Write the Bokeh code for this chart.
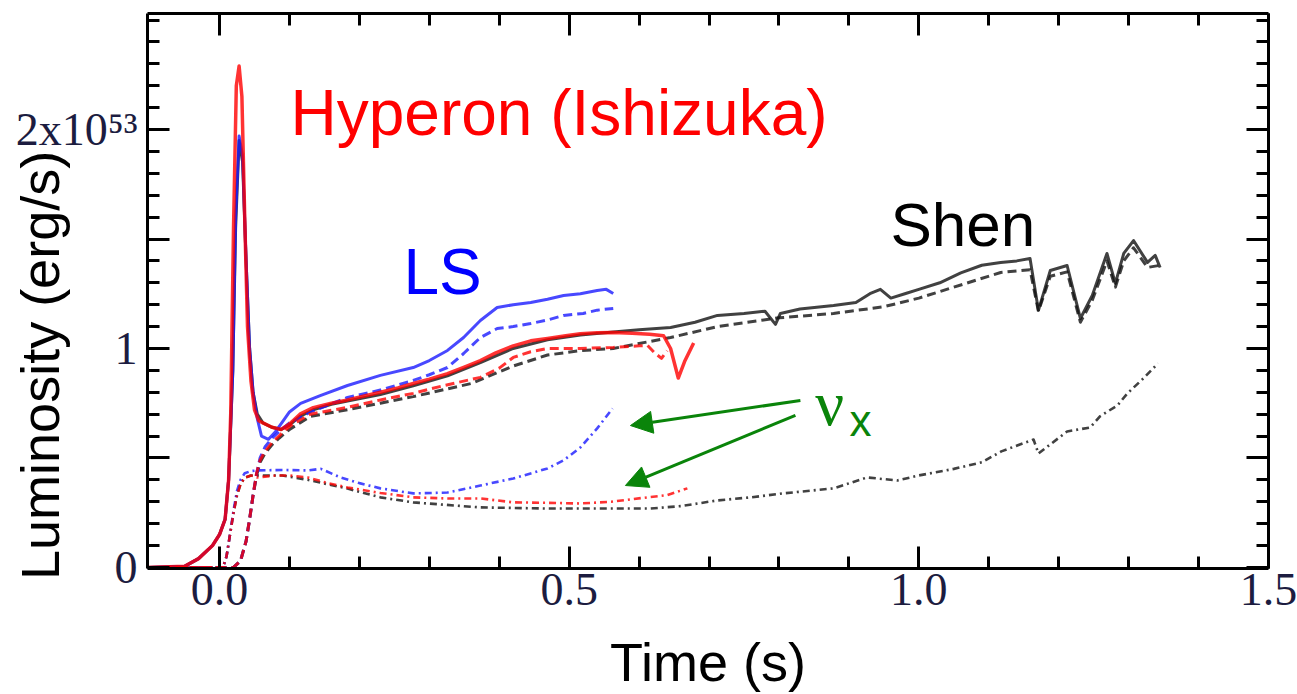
from bokeh.plotting import figure
from bokeh.models import Range1d, LinearAxis, FixedTicker, Label, Arrow, NormalHead, NumeralTickFormatter, Grid
from bokeh.embed import file_html
from bokeh.resources import INLINE

# Neutrino luminosities (units of 1e53 erg/s) against time after bounce (s)

# Hyperon EOS (Ishizuka): nu_e, anti-nu_e, nu_x
hyp_e_t = [-0.103, -0.05, -0.03, -0.01, 0.0, 0.008, 0.013, 0.016, 0.020, 0.024, 0.028, 0.032, 0.036,
           0.040, 0.045, 0.050, 0.056, 0.062, 0.075, 0.088, 0.100, 0.115, 0.134, 0.160, 0.183, 0.210,
           0.230, 0.255, 0.277, 0.300, 0.326, 0.350, 0.373, 0.395, 0.420, 0.445, 0.469, 0.495, 0.516,
           0.540, 0.563, 0.590, 0.615, 0.635, 0.645, 0.656, 0.665, 0.678]
hyp_e_L = [0.0, 0.005, 0.04, 0.10, 0.15, 0.22, 0.40, 0.70, 1.55, 2.20, 2.29, 2.15, 1.60,
           1.10, 0.85, 0.72, 0.67, 0.66, 0.64, 0.63, 0.655, 0.70, 0.73, 0.75, 0.765, 0.785,
           0.80, 0.82, 0.84, 0.86, 0.885, 0.915, 0.945, 0.98, 1.012, 1.035, 1.046, 1.058, 1.067,
           1.072, 1.073, 1.07, 1.065, 1.058, 1.0, 0.865, 0.94, 1.025]

hyp_ae_t = [-0.103, 0.020, 0.030, 0.038, 0.043, 0.048, 0.053, 0.058, 0.065, 0.075, 0.085, 0.095,
            0.105, 0.130, 0.183, 0.230, 0.277, 0.320, 0.373, 0.400, 0.420, 0.445, 0.469, 0.516,
            0.563, 0.600, 0.612, 0.622, 0.632, 0.640]
hyp_ae_L = [0.0, 0.0, 0.03, 0.12, 0.22, 0.33, 0.43, 0.49, 0.53, 0.57, 0.60, 0.63,
            0.655, 0.70, 0.731, 0.765, 0.795, 0.83, 0.868, 0.91, 0.959, 0.985, 1.0, 1.0,
            1.005, 1.012, 1.014, 0.98, 0.955, 0.99]

hyp_x_t = [-0.103, 0.005, 0.010, 0.015, 0.020, 0.025, 0.030, 0.036, 0.045, 0.054, 0.080, 0.100,
           0.126, 0.155, 0.183, 0.230, 0.277, 0.325, 0.373, 0.420, 0.470, 0.516, 0.560, 0.612,
           0.640, 0.669]
hyp_x_L = [0.0, 0.0, 0.05, 0.15, 0.25, 0.33, 0.38, 0.41, 0.42, 0.411, 0.42, 0.42,
           0.411, 0.385, 0.365, 0.34, 0.32, 0.315, 0.315, 0.297, 0.295, 0.292, 0.30, 0.32,
           0.33, 0.361]

# Lattimer-Swesty EOS
ls_e_t = [-0.103, -0.05, -0.03, -0.01, 0.0, 0.008, 0.013, 0.019, 0.023, 0.028, 0.033, 0.038, 0.043,
          0.048, 0.054, 0.060, 0.070, 0.080, 0.090, 0.100, 0.116, 0.144, 0.183, 0.230, 0.277, 0.300,
          0.326, 0.349, 0.373, 0.397, 0.420, 0.445, 0.469, 0.492, 0.516, 0.540, 0.553, 0.563]
ls_e_L = [0.0, 0.005, 0.04, 0.10, 0.15, 0.22, 0.40, 0.90, 1.60, 1.97, 1.88, 1.40, 1.00,
          0.80, 0.68, 0.60, 0.585, 0.62, 0.665, 0.71, 0.749, 0.785, 0.831, 0.877, 0.913, 0.945,
          0.991, 1.05, 1.128, 1.187, 1.20, 1.21, 1.225, 1.242, 1.25, 1.265, 1.27, 1.251]

ls_ae_t = [-0.103, 0.020, 0.030, 0.038, 0.043, 0.048, 0.053, 0.058, 0.065, 0.075, 0.085, 0.100,
           0.130, 0.183, 0.230, 0.277, 0.300, 0.326, 0.349, 0.373, 0.397, 0.420, 0.445, 0.469,
           0.492, 0.520, 0.540, 0.563]
ls_ae_L = [0.0, 0.0, 0.03, 0.12, 0.22, 0.33, 0.43, 0.50, 0.55, 0.59, 0.62, 0.66,
           0.71, 0.776, 0.81, 0.854, 0.88, 0.913, 0.977, 1.05, 1.091, 1.10, 1.114, 1.13,
           1.151, 1.16, 1.175, 1.183]

ls_x_t = [-0.103, 0.005, 0.010, 0.015, 0.020, 0.025, 0.030, 0.036, 0.045, 0.054, 0.090, 0.126,
          0.145, 0.173, 0.200, 0.230, 0.277, 0.326, 0.373, 0.420, 0.469, 0.492, 0.516, 0.540, 0.562]
ls_x_L = [0.0, 0.0, 0.05, 0.15, 0.26, 0.35, 0.40, 0.43, 0.44, 0.443, 0.445, 0.443,
          0.45, 0.411, 0.385, 0.361, 0.338, 0.342, 0.374, 0.406, 0.452, 0.489, 0.548, 0.635, 0.726]

# Shen EOS
shen_e_t = [-0.103, -0.05, -0.03, -0.01, 0.0, 0.008, 0.013, 0.019, 0.023, 0.028, 0.033, 0.038,
            0.043, 0.048, 0.054, 0.062, 0.075, 0.088, 0.100, 0.115, 0.134, 0.160, 0.183, 0.230,
            0.277, 0.326, 0.373, 0.420, 0.469, 0.516, 0.563, 0.600, 0.645, 0.680, 0.712, 0.750,
            0.780, 0.795, 0.802, 0.830, 0.878, 0.910, 0.930, 0.945, 0.960, 0.980, 1.000, 1.030,
            1.060, 1.090, 1.117, 1.140, 1.159, 1.171, 1.188, 1.212, 1.231, 1.248, 1.269, 1.281,
            1.293, 1.307, 1.327, 1.338, 1.345]
shen_e_L = [0.0, 0.005, 0.04, 0.10, 0.15, 0.22, 0.40, 0.90, 1.55, 1.95, 1.85, 1.40,
            1.00, 0.80, 0.70, 0.66, 0.64, 0.63, 0.65, 0.69, 0.72, 0.745, 0.76, 0.79,
            0.83, 0.875, 0.935, 1.0, 1.04, 1.062, 1.075, 1.085, 1.096, 1.12, 1.151, 1.16,
            1.17, 1.11, 1.16, 1.18, 1.196, 1.21, 1.25, 1.27, 1.23, 1.25, 1.27, 1.30,
            1.345, 1.38, 1.393, 1.40, 1.411, 1.174, 1.356, 1.379, 1.137, 1.242, 1.434, 1.297,
            1.434, 1.493, 1.393, 1.425, 1.37]

shen_ae_t = [-0.103, 0.020, 0.030, 0.038, 0.043, 0.048, 0.053, 0.058, 0.065, 0.075, 0.085, 0.100,
             0.130, 0.183, 0.230, 0.277, 0.360, 0.420, 0.469, 0.516, 0.563, 0.645, 0.712, 0.800,
             0.878, 0.949, 1.000, 1.050, 1.117, 1.159, 1.171, 1.188, 1.212, 1.231, 1.248, 1.269,
             1.281, 1.293, 1.307, 1.327, 1.345]
shen_ae_L = [0.0, 0.0, 0.03, 0.12, 0.22, 0.33, 0.42, 0.48, 0.52, 0.56, 0.59, 0.63,
             0.69, 0.72, 0.75, 0.78, 0.84, 0.92, 0.97, 0.99, 1.0, 1.05, 1.10, 1.14,
             1.16, 1.19, 1.23, 1.28, 1.347, 1.36, 1.17, 1.33, 1.35, 1.12, 1.22, 1.40,
             1.28, 1.40, 1.46, 1.37, 1.38]

shen_x_t = [-0.103, 0.005, 0.010, 0.015, 0.020, 0.025, 0.030, 0.036, 0.045, 0.054, 0.090, 0.126,
            0.183, 0.230, 0.277, 0.373, 0.469, 0.540, 0.616, 0.660, 0.712, 0.760, 0.806, 0.878,
            0.926, 0.969, 1.000, 1.050, 1.090, 1.118, 1.164, 1.171, 1.212, 1.245, 1.259, 1.284,
            1.298, 1.321, 1.342]
shen_x_L = [0.0, 0.0, 0.05, 0.15, 0.25, 0.33, 0.38, 0.41, 0.42, 0.42, 0.42, 0.40,
            0.36, 0.32, 0.297, 0.274, 0.269, 0.269, 0.269, 0.28, 0.306, 0.32, 0.338, 0.361,
            0.411, 0.397, 0.42, 0.45, 0.48, 0.53, 0.584, 0.52, 0.621, 0.639, 0.690, 0.740,
            0.794, 0.863, 0.932]

# Axis ticks and labels
x_major = [0.0, 0.5, 1.0, 1.5]
x_minor = [0.1, 0.2, 0.3, 0.4, 0.6, 0.7, 0.8, 0.9, 1.1, 1.2, 1.3, 1.4]
y_major = [0, 0.5, 1, 1.5, 2]
y_minor = [0.1, 0.2, 0.3, 0.4, 0.6, 0.7, 0.8, 0.9, 1.1, 1.2, 1.3, 1.4,
           1.6, 1.7, 1.8, 1.9, 2.1, 2.2, 2.3, 2.4, 2.5]
y_labels = {0: "0", 0.5: "", 1: "1", 1.5: "", 2: "2x10\u2075\u00b3"}

RED = "#ff0000"
BLUE = "#1a1aff"
BLACK = "#111111"
GREEN = "#0a840a"
SANS = "'Liberation Sans', 'Noto Sans CJK JP'"
SERIF = "'Liberation Serif'"

p = figure(width=1297, height=694,
           x_range=Range1d(-0.103, 1.5), y_range=Range1d(-0.005, 2.53),
           output_backend="svg", toolbar_location=None,
           x_axis_location=None, y_axis_location=None,
           min_border_left=147, min_border_right=29, min_border_top=13, min_border_bottom=126)
p.outline_line_color = None
p.background_fill_color = "white"
p.border_fill_color = "white"
p.center = [r for r in p.center if not isinstance(r, Grid)]


def frame_axis(ticker, show_labels, ticks=()):
    ax = LinearAxis(ticker=ticker,
                    axis_line_width=3, axis_line_color="black",
                    major_tick_in=22, major_tick_out=0, major_tick_line_width=3,
                    minor_tick_in=12, minor_tick_out=0, minor_tick_line_width=3)
    if show_labels:
        ax.major_label_text_font = SERIF
        ax.major_label_text_font_size = "46px"
        ax.major_label_text_color = "#1c1c40"
    else:
        # mirrored frame side: ticks only
        ax.major_label_overrides = {t: "" for t in ticks}
        ax.major_label_text_font_size = "1px"
        ax.major_label_standoff = 0
    return ax


xb = frame_axis(FixedTicker(ticks=x_major, minor_ticks=x_minor), True)
xb.formatter = NumeralTickFormatter(format="0.0")
xb.major_label_standoff = 5
xb.axis_label = "Time (s)"
xb.axis_label_text_font = SANS
xb.axis_label_text_font_size = "54px"
xb.axis_label_text_font_style = "normal"
xb.axis_label_text_color = "black"
xb.axis_label_standoff = 24
p.add_layout(xb, "below")

yl = frame_axis(FixedTicker(ticks=y_major, minor_ticks=y_minor), True)
yl.major_label_overrides = y_labels
yl.major_label_standoff = 10
# title sits low along the axis: blank padding at its upper end
yl.axis_label = "Luminosity (erg/s)" + "\u3000\u3000\u00a0\u00a0\u2009"
yl.axis_label_text_font = SANS
yl.axis_label_text_font_size = "54px"
yl.axis_label_text_font_style = "normal"
yl.axis_label_text_color = "black"
yl.axis_label_standoff = -57
p.add_layout(yl, "left")

p.add_layout(frame_axis(FixedTicker(ticks=x_major, minor_ticks=x_minor), False, x_major), "above")
p.add_layout(frame_axis(FixedTicker(ticks=y_major, minor_ticks=y_minor), False, y_major), "right")

# luminosity curves: solid = nu_e, dashed = anti-nu_e, dash-dot = nu_x
curves = [
    (shen_x_t, shen_x_L, BLACK, "7 4 2 4", 2.6),
    (shen_ae_t, shen_ae_L, BLACK, "9 5", 3),
    (shen_e_t, shen_e_L, BLACK, "solid", 3),
    (ls_x_t, ls_x_L, BLUE, "7 4 2 4", 2.6),
    (ls_ae_t, ls_ae_L, BLUE, "9 5", 3),
    (ls_e_t, ls_e_L, BLUE, "solid", 3),
    (hyp_x_t, hyp_x_L, RED, "7 4 2 4", 2.6),
    (hyp_ae_t, hyp_ae_L, RED, "9 5", 3),
    (hyp_e_t, hyp_e_L, RED, "solid", 3.5),
]
for t, L, col, dash, w in curves:
    p.line(t, L, line_color=col, line_width=w, line_dash=dash, line_alpha=0.8,
           line_join="round")

# annotations
p.add_layout(Label(x=0.1015, y=2.074, text="Hyperon (Ishizuka)", text_font=SANS,
                   text_font_size="64px", text_color=RED, text_baseline="alphabetic"))
p.add_layout(Label(x=0.263, y=1.348, text="LS", text_font=SANS,
                   text_font_size="64px", text_color="#0000ff", text_baseline="alphabetic"))
p.add_layout(Label(x=0.9595, y=1.566, text="Shen", text_font=SANS,
                   text_font_size="62px", text_color="black", text_baseline="alphabetic"))
p.add_layout(Label(x=0.852, y=0.749, text="\u03bd", text_font=SERIF,
                   text_font_size="64px", text_color=GREEN, text_baseline="alphabetic"))
p.add_layout(Label(x=0.901, y=0.672, text="x", text_font=SANS,
                   text_font_size="44px", text_color=GREEN, text_baseline="alphabetic"))

for xs, ys, xe, ye in [(0.8306, 0.7626, 0.5876, 0.648), (0.8235, 0.694, 0.5804, 0.374)]:
    p.add_layout(Arrow(end=NormalHead(size=22, fill_color=GREEN, line_color=GREEN),
                       x_start=xs, y_start=ys, x_end=xe, y_end=ye,
                       line_color=GREEN, line_width=3))

open("out.html", "w").write(file_html(p, INLINE))
